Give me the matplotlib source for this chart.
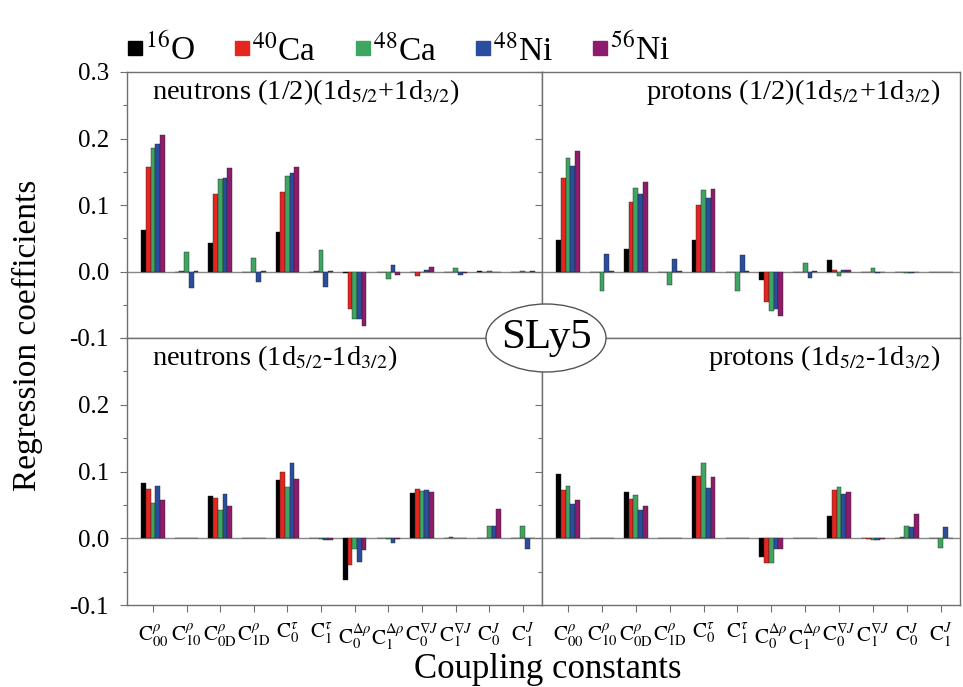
import numpy as np
import matplotlib
matplotlib.use("Agg")
import matplotlib.pyplot as plt
from matplotlib.patches import Ellipse
from matplotlib.lines import Line2D

plt.rcParams['font.family'] = ['Liberation Serif', 'DejaVu Serif']
plt.rcParams['mathtext.fontset'] = 'stix'

categories = [r'$\mathrm{C}^{\rho}_{00}$', r'$\mathrm{C}^{\rho}_{10}$', r'$\mathrm{C}^{\rho}_{0\mathrm{D}}$',
              r'$\mathrm{C}^{\rho}_{1\mathrm{D}}$', r'$\mathrm{C}^{\tau}_{0}$', r'$\mathrm{C}^{\tau}_{1}$',
              r'$\mathrm{C}^{\Delta\rho}_{0}$', r'$\mathrm{C}^{\Delta\rho}_{1}$', r'$\mathrm{C}^{\nabla J}_{0}$',
              r'$\mathrm{C}^{\nabla J}_{1}$', r'$\mathrm{C}^{J}_{0}$', r'$\mathrm{C}^{J}_{1}$']
nuclei = [r'$^{16}$O', r'$^{40}$Ca', r'$^{48}$Ca', r'$^{48}$Ni', r'$^{56}$Ni']
colors = ['#000000', '#e5261f', '#3fa562', '#2b4d9e', '#8e1c6c']

# rows = nuclei, columns = categories
neutrons_avg = [
    [0.063, 0.000, 0.043, 0.000, 0.060, 0.000, -0.003, 0.000, 0.000, 0.000, 0.001, 0.000],
    [0.157, 0.001, 0.116, 0.000, 0.119, 0.001, -0.057, 0.000, -0.007, 0.000, 0.000, 0.000],
    [0.185, 0.030, 0.139, 0.021, 0.144, 0.032, -0.072, -0.012, 0.000, 0.006, 0.001, 0.001],
    [0.191, -0.025, 0.141, -0.016, 0.148, -0.024, -0.072, 0.010, 0.003, -0.005, -0.001, 0.000],
    [0.206, 0.001, 0.156, 0.001, 0.157, 0.001, -0.082, -0.005, 0.007, -0.002, 0.000, 0.001],
]
protons_avg = [
    [0.048, 0.000, 0.034, 0.000, 0.047, 0.000, -0.013, 0.000, 0.017, 0.000, 0.000, 0.000],
    [0.141, 0.000, 0.104, 0.000, 0.100, 0.000, -0.046, 0.000, 0.002, 0.000, -0.001, 0.000],
    [0.171, -0.029, 0.126, -0.020, 0.122, -0.030, -0.059, 0.013, -0.007, 0.006, -0.002, -0.001],
    [0.158, 0.026, 0.116, 0.019, 0.111, 0.025, -0.056, -0.010, 0.003, -0.003, -0.002, -0.001],
    [0.181, 0.001, 0.135, 0.001, 0.124, 0.001, -0.067, 0.001, 0.002, 0.000, 0.000, 0.000],
]
neutrons_diff = [
    [0.083, 0.000, 0.063, 0.000, 0.088, 0.000, -0.063, 0.000, 0.068, 0.001, 0.001, 0.000],
    [0.074, 0.000, 0.060, 0.000, 0.100, 0.000, -0.040, 0.000, 0.074, 0.002, 0.001, 0.000],
    [0.053, 0.001, 0.043, 0.001, 0.077, -0.001, -0.016, -0.001, 0.071, 0.001, 0.018, 0.019],
    [0.078, 0.000, 0.066, 0.000, 0.112, -0.002, -0.035, -0.007, 0.072, 0.001, 0.018, -0.016],
    [0.058, 0.000, 0.049, 0.000, 0.089, -0.002, -0.017, -0.001, 0.069, 0.000, 0.044, 0.000],
]
protons_diff = [
    [0.097, 0.000, 0.069, 0.000, 0.094, 0.000, -0.028, 0.000, 0.034, 0.000, 0.001, 0.000],
    [0.072, 0.000, 0.059, 0.000, 0.094, 0.000, -0.037, 0.000, 0.073, -0.001, 0.002, 0.000],
    [0.079, 0.000, 0.065, 0.000, 0.112, 0.001, -0.037, 0.001, 0.077, -0.002, 0.019, -0.015],
    [0.052, 0.000, 0.042, 0.000, 0.075, 0.000, -0.016, 0.000, 0.067, -0.002, 0.017, 0.017],
    [0.057, 0.000, 0.049, 0.000, 0.092, 0.000, -0.016, 0.000, 0.069, -0.001, 0.036, 0.000],
]

panels = [
    (neutrons_avg, r'neutrons (1/2)(1d$_{5/2}$+1d$_{3/2}$)', 'left'),
    (protons_avg, r'protons (1/2)(1d$_{5/2}$+1d$_{3/2}$)', 'right'),
    (neutrons_diff, r'neutrons (1d$_{5/2}$-1d$_{3/2}$)', 'left'),
    (protons_diff, r'protons (1d$_{5/2}$-1d$_{3/2}$)', 'right'),
]

W, H = 963, 687
fig = plt.figure(figsize=(W / 100, H / 100), dpi=100)

x0, xm, x1 = 127 / W, 542 / W, 960 / W
yt, ym, yb = 1 - 72 / H, 1 - 338 / H, 1 - 605 / H
rects = [
    [x0, ym, xm - x0, yt - ym],
    [xm, ym, x1 - xm, yt - ym],
    [x0, yb, xm - x0, ym - yb],
    [xm, yb, x1 - xm, ym - yb],
]

x = np.arange(len(categories))
bw = 0.14
spine_col = '#707070'
for i, (data, title, side) in enumerate(panels):
    ax = fig.add_axes(rects[i])
    for k in range(len(nuclei)):
        ax.bar(x + (k - 2) * bw, data[k], width=bw, color=colors[k],
               edgecolor='#222222', linewidth=0.3, zorder=3)
    ax.axhline(0, color='#888888', lw=1.0, zorder=2)
    ax.set_xlim(-0.77, 11.57)
    ax.set_ylim(-0.1, 0.3)
    ax.set_xticks(x)
    ax.set_yticks([-0.1, 0.0, 0.1, 0.2, 0.3])
    ax.set_yticks([-0.05, 0.05, 0.15, 0.25], minor=True)
    for sp in ax.spines.values():
        sp.set_color(spine_col)
        sp.set_linewidth(1.0)
    ax.tick_params(axis='both', which='both', direction='out', color=spine_col,
                   length=5, width=0.8, labelsize=18)
    ax.tick_params(axis='y', which='minor', length=3)
    ax.tick_params(axis='y', pad=8)
    if i >= 2:
        ax.set_xticklabels(categories, fontsize=15)
        ax.tick_params(axis='x', pad=7)
    else:
        ax.set_xticklabels([])
    if side == 'left':
        if i == 0:
            ax.set_yticklabels(['-0.1', '0.0', '0.1', '0.2', '0.3'])
        else:
            ax.set_yticklabels(['-0.1', '0.0', '0.1', '0.2', ''])
    else:
        ax.set_yticklabels([])
    if side == 'left':
        ax.text(0.06, 0.925, title, transform=ax.transAxes, ha='left', va='center', fontsize=20.5)
    else:
        ax.text(0.955, 0.925, title, transform=ax.transAxes, ha='right', va='center', fontsize=20.5)

# SLy5 label
ell = Ellipse((xm + 4 / W, ym), 120 / W, 68 / H, transform=fig.transFigure,
              facecolor='white', edgecolor='#555555', lw=1.0, zorder=10)
fig.add_artist(ell)
fig.text(xm + 4 / W, ym, 'SLy5', ha='center', va='center', fontsize=31, zorder=11)

fig.text(27 / W, 1 - 335 / H, 'Regression coefficients', rotation=90,
         ha='center', va='center', fontsize=24)
fig.text(548 / W, 1 - 670 / H, 'Coupling constants', ha='center', va='center', fontsize=25)

handles = [Line2D([], [], marker='s', color=c, ls='none', markersize=10) for c in colors]
fig.legend(handles, nuclei, loc='upper left', bbox_to_anchor=(112 / W, 1 - 19 / H),
           ncol=5, frameon=False, fontsize=24, handlelength=0.6, handletextpad=0.0,
           columnspacing=1.1, borderaxespad=0)

fig.savefig('out.png', dpi=100)
